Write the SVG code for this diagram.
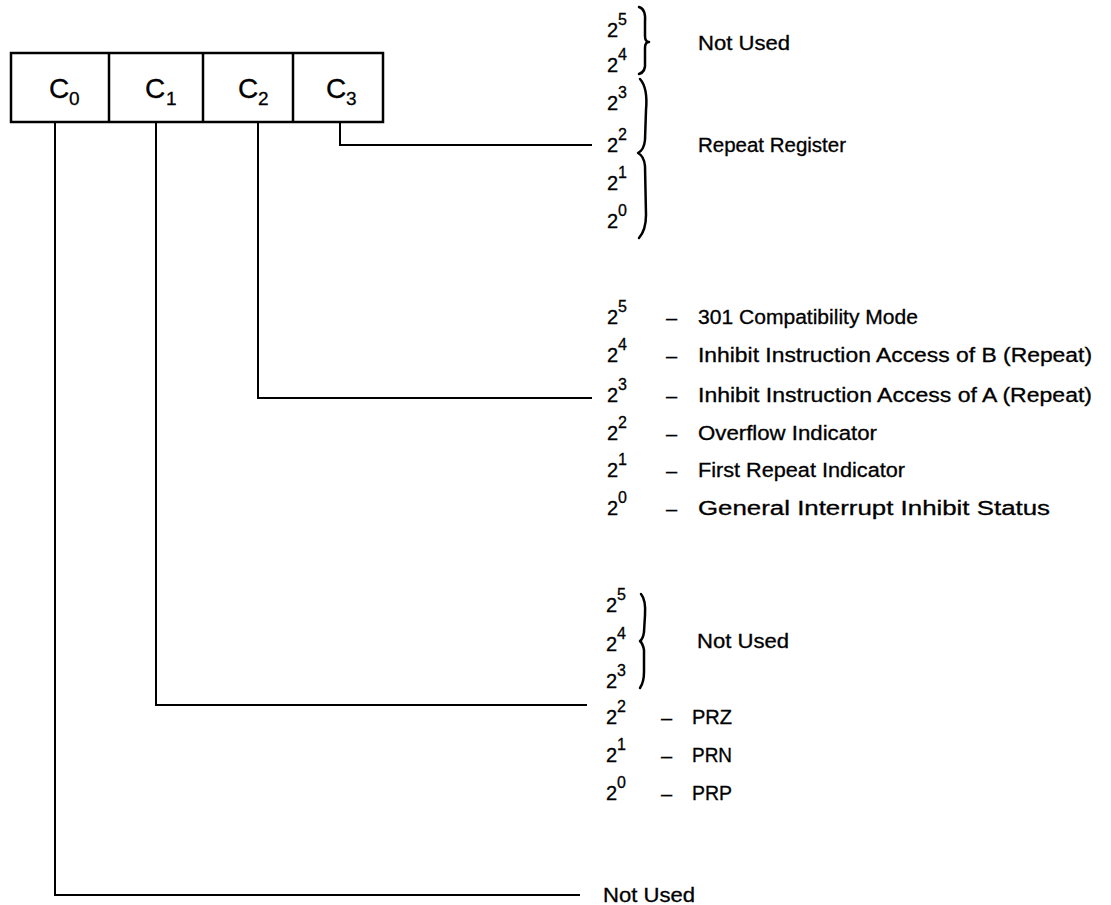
<svg xmlns="http://www.w3.org/2000/svg" width="1111" height="905" viewBox="0 0 1111 905">
<style>
text{font-family:"Liberation Sans",Arial,sans-serif;fill:#000;stroke:#000;stroke-width:0.3}
.lbl{font-size:20px}
.dash{font-size:20px}
.two{font-size:20px}
.sup{font-size:16px}
.c{font-size:28px}
.sub{font-size:19px}
.ln{stroke:#000;stroke-width:2;fill:none}
.br{stroke:#000;stroke-width:2.5;fill:none;stroke-linecap:round;stroke-linejoin:round}
</style>
<rect width="1111" height="905" fill="#fff"/>
<g id="register">
<rect x="11" y="53" width="372" height="69" fill="#fff" stroke="#000" stroke-width="2.5"/>
<line x1="109" y1="53" x2="109" y2="122" stroke="#000" stroke-width="2.5"/>
<line x1="203" y1="53" x2="203" y2="122" stroke="#000" stroke-width="2.5"/>
<line x1="293" y1="53" x2="293" y2="122" stroke="#000" stroke-width="2.5"/>
</g>
<g id="C0"><text class="c" x="49" y="98">C</text><text class="sub" x="69" y="105">0</text></g>
<g id="C1"><text class="c" x="145" y="98">C</text><text class="sub" x="166" y="105">1</text></g>
<g id="C2"><text class="c" x="238" y="98">C</text><text class="sub" x="258" y="105">2</text></g>
<g id="C3"><text class="c" x="326" y="98">C</text><text class="sub" x="346" y="105">3</text></g>
<g id="connectors">
<polyline class="ln" points="340,122 340,145 592,145"/>
<polyline class="ln" points="258,122 258,398 592,398"/>
<polyline class="ln" points="156,122 156,705 587,705"/>
<polyline class="ln" points="55,122 55,895 580,895"/>
</g>
<g id="c3-bits">
<text class="two" x="607" y="37">2</text><text class="sup" x="618" y="25">5</text>
<text class="two" x="607" y="72">2</text><text class="sup" x="618" y="60">4</text>
<text class="two" x="607" y="110">2</text><text class="sup" x="618" y="98">3</text>
<text class="two" x="607" y="152">2</text><text class="sup" x="618" y="140">2</text>
<text class="two" x="607" y="190">2</text><text class="sup" x="618" y="178">1</text>
<text class="two" x="607" y="228">2</text><text class="sup" x="618" y="216">0</text>
<path class="br" d="M639,7 Q646,9 645,22 L645,36 Q645,42 649,42 Q645,42 645,48 L645,62 Q646,72 639,74"/>
<path class="br" d="M640,79 Q648,88 646,110 L645,140 Q644,150 638,153 Q644,156 645,166 L646,215 Q646,230 639,238"/>
<text class="lbl" x="698" y="50" textLength="92" lengthAdjust="spacingAndGlyphs">Not Used</text>
<text class="lbl" x="698" y="152" textLength="148" lengthAdjust="spacingAndGlyphs">Repeat Register</text>
</g>
<g id="c2-bits">
<text class="two" x="607" y="324">2</text><text class="sup" x="618" y="312">5</text>
<text class="two" x="607" y="362">2</text><text class="sup" x="618" y="350">4</text>
<text class="two" x="607" y="402">2</text><text class="sup" x="618" y="390">3</text>
<text class="two" x="607" y="440">2</text><text class="sup" x="618" y="428">2</text>
<text class="two" x="607" y="477">2</text><text class="sup" x="618" y="465">1</text>
<text class="two" x="607" y="515">2</text><text class="sup" x="618" y="503">0</text>
<text class="dash" x="666" y="325">–</text>
<text class="dash" x="666" y="363">–</text>
<text class="dash" x="666" y="403">–</text>
<text class="dash" x="666" y="441">–</text>
<text class="dash" x="666" y="478">–</text>
<text class="dash" x="666" y="516">–</text>
<text class="lbl" x="698" y="324" textLength="220" lengthAdjust="spacingAndGlyphs">301 Compatibility Mode</text>
<text class="lbl" x="698" y="362" textLength="394" lengthAdjust="spacingAndGlyphs">Inhibit Instruction Access of B (Repeat)</text>
<text class="lbl" x="698" y="402" textLength="394" lengthAdjust="spacingAndGlyphs">Inhibit Instruction Access of A (Repeat)</text>
<text class="lbl" x="698" y="440" textLength="179" lengthAdjust="spacingAndGlyphs">Overflow Indicator</text>
<text class="lbl" x="698" y="477" textLength="207" lengthAdjust="spacingAndGlyphs">First Repeat Indicator</text>
<text class="lbl" x="698" y="515" textLength="352" lengthAdjust="spacingAndGlyphs">General Interrupt Inhibit Status</text>
</g>
<g id="c1-bits">
<text class="two" x="606" y="612">2</text><text class="sup" x="617" y="600">5</text>
<text class="two" x="606" y="651">2</text><text class="sup" x="617" y="639">4</text>
<text class="two" x="606" y="688">2</text><text class="sup" x="617" y="676">3</text>
<text class="two" x="606" y="724">2</text><text class="sup" x="617" y="712">2</text>
<text class="two" x="606" y="762">2</text><text class="sup" x="617" y="750">1</text>
<text class="two" x="606" y="800">2</text><text class="sup" x="617" y="788">0</text>
<path class="br" d="M641,594 Q646,600 645,615 L644,632 Q643,639 640,641 Q643,644 644,650 L644,672 Q644,682 640,688"/>
<text class="lbl" x="697" y="648" textLength="92" lengthAdjust="spacingAndGlyphs">Not Used</text>
<text class="dash" x="661" y="725">–</text>
<text class="dash" x="661" y="763">–</text>
<text class="dash" x="661" y="801">–</text>
<text class="lbl" x="692" y="724" textLength="40" lengthAdjust="spacingAndGlyphs">PRZ</text>
<text class="lbl" x="692" y="762" textLength="40" lengthAdjust="spacingAndGlyphs">PRN</text>
<text class="lbl" x="692" y="800" textLength="40" lengthAdjust="spacingAndGlyphs">PRP</text>
</g>
<g id="c0-bits">
<text class="lbl" x="603" y="902" textLength="92" lengthAdjust="spacingAndGlyphs">Not Used</text>
</g>
</svg>
